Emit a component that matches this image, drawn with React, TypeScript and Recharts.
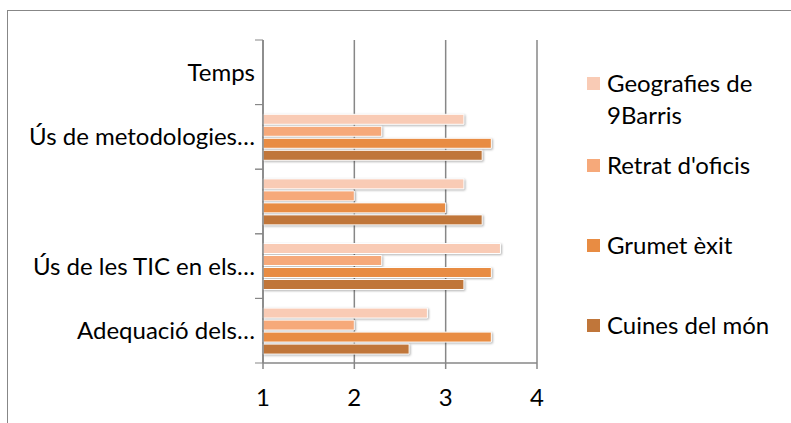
import React from 'react';
import { BarChart, Bar, XAxis, YAxis, CartesianGrid, Legend } from 'recharts';

// categories top to bottom, as drawn
const categories = ['Temps', 'Ús de metodologies…', '', 'Ús de les TIC en els…', 'Adequació dels…'];

const geografies = [null, 3.2, 3.2, 3.6, 2.8];
const retrat = [null, 2.3, 2.0, 2.3, 2.0];
const grumet = [null, 3.5, 3.0, 3.5, 3.5];
const cuines = [null, 3.4, 3.4, 3.2, 2.6];

const xTicks = [1, 2, 3, 4];

const SERIES = [
  { key: 'geo', name: 'Geografies de 9Barris', color: '#F9CBB5', values: geografies },
  { key: 'retrat', name: "Retrat d'oficis", color: '#F6A97A', values: retrat },
  { key: 'grumet', name: 'Grumet èxit', color: '#E88C43', values: grumet },
  { key: 'cuines', name: 'Cuines del món', color: '#C0763A', values: cuines },
];

const data = categories.map((name, i) => {
  const row: Record<string, string | number | null> = { name };
  SERIES.forEach((s) => {
    row[s.key] = s.values[i];
  });
  return row;
});

const FONT = 'Lato, "Noto Sans", sans-serif';
const GRID = '#878787';
const HALF_BAND = 323 / categories.length / 2;

const CategoryTick = (props: any) => {
  const { x, y, payload } = props;
  return (
    <g>
      <line x1={x} x2={x + 8} y1={y - HALF_BAND} y2={y - HALF_BAND} stroke={GRID} />
      <line x1={x} x2={x + 8} y1={y + HALF_BAND} y2={y + HALF_BAND} stroke={GRID} />
      <text x={x} y={y} dy="0.355em" textAnchor="end" fill="#000" fontSize={24} fontFamily={FONT}>
        {payload.value}
      </text>
    </g>
  );
};

const LEGEND_GAPS = [0, 18, 48, 48];

const LegendBox = (props: any) => {
  // keep the series order (recharts sorts legend items by name)
  const order = SERIES.map((s) => s.name);
  const items = [...(props.payload || [])].sort(
    (a: any, b: any) => order.indexOf(a.value) - order.indexOf(b.value)
  );
  return (
    <div style={{ fontFamily: FONT, fontSize: 24, lineHeight: '32px', color: '#000' }}>
      {items.map((entry: any, i: number) => (
        <div key={entry.value} style={{ display: 'flex', alignItems: 'flex-start', marginTop: LEGEND_GAPS[i] }}>
          <span style={{ width: 13, height: 13, background: entry.color, marginTop: 10, marginRight: 7, flex: 'none' }} />
          <span style={{ width: 175 }}>{entry.value}</span>
        </div>
      ))}
    </div>
  );
};

const App: React.FC = () => {
  return (
    <div style={{ position: 'fixed', left: 0, top: 0, width: 791, height: 423, background: '#fff', overflow: 'hidden' }}>
      <div
        style={{
          position: 'absolute',
          left: 7,
          top: 10,
          width: 800,
          height: 430,
          border: `1px solid ${GRID}`,
        }}
      />
      <div style={{ position: 'absolute', left: 0, top: 0 }}>
        <BarChart
          width={791}
          height={423}
          data={data}
          layout="vertical"
          margin={{ top: 40, right: 254, left: 8, bottom: 0 }}
          barCategoryGap="15%"
          barGap={2}
        >
          <CartesianGrid horizontal={false} stroke={GRID} strokeWidth={1.5} />
          <XAxis
            type="number"
            domain={[1, 4]}
            ticks={xTicks}
            height={60}
            axisLine={{ stroke: GRID, strokeWidth: 1.5 }}
            tickLine={{ stroke: GRID, strokeWidth: 1.5 }}
            tickSize={6}
            tickMargin={20}
            tick={{ fill: '#000', fontSize: 24, fontFamily: FONT }}
          />
          <YAxis
            type="category"
            dataKey="name"
            width={255}
            axisLine={{ stroke: GRID, strokeWidth: 1.5 }}
            tickLine={false}
            tickSize={8}
            tickMargin={0}
            interval={0}
            tick={<CategoryTick />}
          />
          <Legend
            layout="vertical"
            align="center"
            verticalAlign="middle"
            wrapperStyle={{ left: 587, top: 67, width: 200 }}
            content={<LegendBox />}
          />
          {SERIES.map((s) => (
            <Bar
              key={s.key}
              dataKey={s.key}
              name={s.name}
              fill={s.color}
              stroke="#fff"
              strokeWidth={1}
              style={{ filter: 'drop-shadow(1.5px 1.5px 1px rgba(0,0,0,0.3))' }}
              isAnimationActive={false}
            />
          ))}
        </BarChart>
      </div>
    </div>
  );
};

export default App;
